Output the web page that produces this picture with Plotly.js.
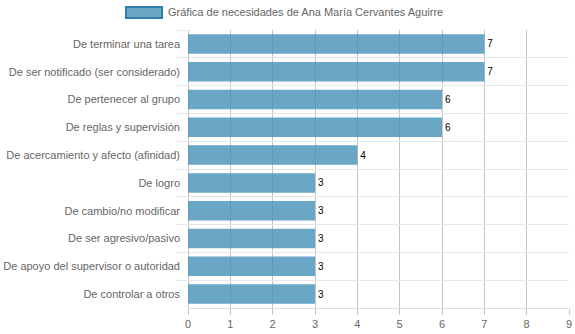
<!DOCTYPE html>
<html>
<head>
<meta charset="utf-8">
<script src="https://cdn.plot.ly/plotly-3.0.1.min.js"></script>
<style>html,body{margin:0;padding:0;background:#fff;}#chart{width:575px;height:334px;}</style>
</head>
<body>
<div id="chart"></div>
<script>
const categories = [
  "De terminar una tarea",
  "De ser notificado (ser considerado)",
  "De pertenecer al grupo",
  "De reglas y supervisión",
  "De acercamiento y afecto (afinidad)",
  "De logro",
  "De cambio/no modificar",
  "De ser agresivo/pasivo",
  "De apoyo del supervisor o autoridad",
  "De controlar a otros"
];
const values = [7, 7, 6, 6, 4, 3, 3, 3, 3, 3];
const seriesName = "Gráfica de necesidades de Ana María Cervantes Aguirre";
const xTicks = [0,1,2,3,4,5,6,7,8,9];

const trace = {
  type: 'bar',
  orientation: 'h',
  x: values,
  y: categories,
  name: seriesName,
  marker: {color: 'rgba(69,144,184,0.8)', line: {width: 0}},
  text: values.map(String),
  textposition: 'outside',
  textfont: {family: 'Liberation Sans, Arial, sans-serif', size: 10, color: '#000'},
  cliponaxis: false,
  hoverinfo: 'none',
  showlegend: false
};

const font = 'Liberation Sans, Arial, sans-serif';
const layout = {
  width: 575, height: 334,
  margin: {l: 188, r: 6, t: 30, b: 26},
  paper_bgcolor: '#fff', plot_bgcolor: '#fff',
  bargap: 0.3,
  font: {family: font, size: 11, color: '#666'},
  xaxis: {
    range: [0, 9], tickvals: xTicks, ticktext: xTicks.map(String),
    showgrid: true, gridcolor: '#c4c4c4', gridwidth: 1,
    zeroline: true, zerolinecolor: '#c4c4c4',
    showline: true, linecolor: '#dcdcdc',
    ticks: 'outside', ticklen: 6, tickcolor: '#c4c4c4',
    tickfont: {family: font, size: 11, color: '#666'},
    fixedrange: true
  },
  yaxis: {
    autorange: 'reversed',
    tickson: 'boundaries',
    showgrid: true, gridcolor: '#e6e6e6',
    ticks: 'outside', ticklen: 10, tickcolor: '#e6e6e6',
    ticklabelstandoff: 7,
    showline: false,
    tickfont: {family: font, size: 11, color: '#666'},
    fixedrange: true
  },
  shapes: [{
    type: 'rect', xref: 'paper', yref: 'paper',
    x0: -0.1627, x1: -0.0682, y0: 1.0432, y1: 1.0827,
    fillcolor: 'rgba(106,166,198,1)', line: {color: '#2f7fad', width: 2}
  }],
  annotations: [{
    xref: 'paper', yref: 'paper', x: -0.057, y: 1.0647,
    xanchor: 'left', yanchor: 'middle', showarrow: false,
    text: seriesName, font: {family: font, size: 11, color: '#666'}
  }]
};

Plotly.newPlot('chart', [trace], layout, {staticPlot: true});
</script>
</body>
</html>
